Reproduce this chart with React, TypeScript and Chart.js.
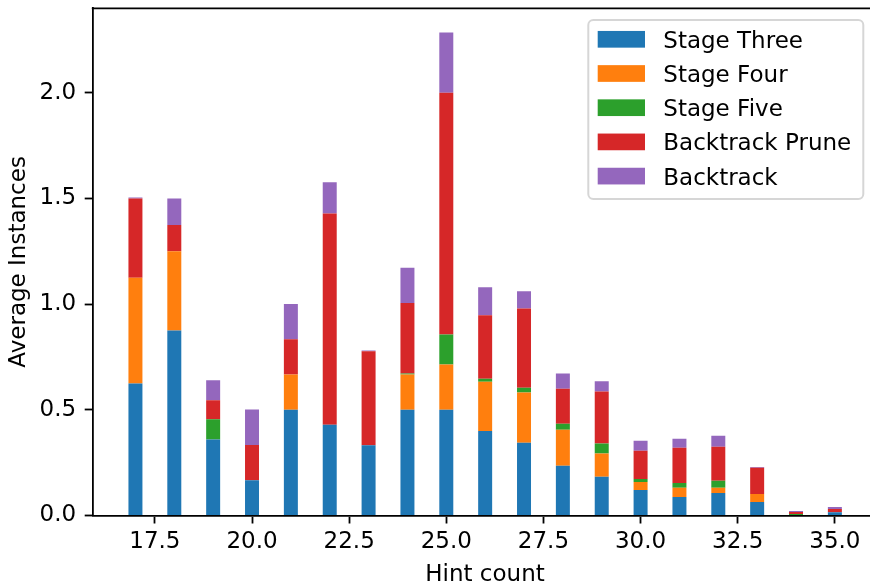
import React, { useEffect, useRef } from 'react';
import { Chart, registerables } from 'chart.js';

Chart.register(...registerables);

const hintCounts = [17, 18, 19, 20, 21, 22, 23, 24, 25, 26, 27, 28, 29, 30, 31, 32, 33, 34, 35];
const stageThree = [0.625, 0.875, 0.36, 0.167, 0.5, 0.429, 0.333, 0.5, 0.5, 0.4, 0.344, 0.235, 0.183, 0.121, 0.088, 0.107, 0.064, 0, 0.015];
const stageFour = [0.5, 0.375, 0, 0, 0.167, 0, 0, 0.167, 0.214, 0.233, 0.238, 0.171, 0.11, 0.038, 0.043, 0.024, 0.038, 0, 0];
const stageFive = [0, 0, 0.095, 0, 0, 0, 0, 0.005, 0.143, 0.014, 0.023, 0.028, 0.048, 0.014, 0.023, 0.033, 0, 0.007, 0];
const backtrackPrune = [0.375, 0.125, 0.09, 0.167, 0.167, 1.0, 0.444, 0.333, 1.143, 0.3, 0.375, 0.166, 0.246, 0.133, 0.166, 0.161, 0.124, 0.01, 0.016];
const backtrack = [0.005, 0.125, 0.095, 0.167, 0.167, 0.148, 0.004, 0.167, 0.286, 0.133, 0.081, 0.072, 0.048, 0.048, 0.043, 0.052, 0.004, 0.004, 0.009];

const seriesLabels = ['Stage Three', 'Stage Four', 'Stage Five', 'Backtrack Prune', 'Backtrack'];
const seriesColors = ['#1f77b4', '#ff7f0e', '#2ca02c', '#d62728', '#9467bd'];
const seriesValues = [stageThree, stageFour, stageFive, backtrackPrune, backtrack];

const xTickValues = [17.5, 20, 22.5, 25, 27.5, 30, 32.5, 35];
const yTickValues = [0, 0.5, 1.0, 1.5, 2.0];
const xAxisTitle = 'Hint count';
const yAxisTitle = 'Average Instances';

const FONT = '"DejaVu Sans", "Liberation Sans", sans-serif';
const FONT_SIZE = 23;

const decorPlugin = {
  id: 'decor',
  afterDraw(chart: any) {
    const { ctx, chartArea } = chart;
    ctx.save();
    // top spine
    ctx.strokeStyle = '#000';
    ctx.lineWidth = 1.8;
    ctx.beginPath();
    ctx.moveTo(chartArea.left - 0.9, chartArea.top);
    ctx.lineTo(chart.width, chartArea.top);
    ctx.stroke();

    // axis titles
    ctx.fillStyle = '#000';
    ctx.font = `${FONT_SIZE}px ${FONT}`;
    ctx.textAlign = 'center';
    ctx.textBaseline = 'alphabetic';
    ctx.fillText(xAxisTitle, 485, 581);
    ctx.save();
    ctx.translate(25, (chartArea.top + chartArea.bottom) / 2);
    ctx.rotate(-Math.PI / 2);
    ctx.fillText(yAxisTitle, 0, 0);
    ctx.restore();

    // legend
    const bx = 588.3, by = 20, bw = 275, bh = 179;
    ctx.beginPath();
    if (ctx.roundRect) ctx.roundRect(bx, by, bw, bh, 5);
    else ctx.rect(bx, by, bw, bh);
    ctx.fillStyle = 'rgba(255,255,255,0.8)';
    ctx.fill();
    ctx.strokeStyle = 'rgba(204,204,204,0.8)';
    ctx.lineWidth = 2;
    ctx.stroke();

    ctx.textAlign = 'left';
    chart.data.datasets.forEach((ds: any, i: number) => {
      const cy = 39.3 + i * 34.2;
      ctx.fillStyle = ds.backgroundColor;
      ctx.fillRect(597.7, cy - 8.35, 47.3, 16.7);
      ctx.fillStyle = '#000';
      ctx.fillText(ds.label, 663.3, cy + 8.4);
    });
    ctx.restore();
  },
};

export default function App() {
  const canvasRef = useRef<HTMLCanvasElement | null>(null);

  useEffect(() => {
    if (!canvasRef.current) return;
    const datasets = seriesLabels.map((label, si) => ({
      label,
      data: hintCounts.map((x, i) => ({ x, y: seriesValues[si][i] })),
      backgroundColor: seriesColors[si],
      borderWidth: 0,
      categoryPercentage: 1.0,
      barPercentage: 0.36,
    }));

    const tickFont = { family: FONT, size: FONT_SIZE };

    const chart = new Chart(canvasRef.current, {
      type: 'bar',
      data: { datasets },
      options: {
        responsive: false,
        animation: false,
        devicePixelRatio: 1,
        layout: { padding: { top: 8.3, left: 0, right: 0, bottom: 0 } },
        plugins: {
          legend: { display: false },
          tooltip: { enabled: false },
        },
        scales: {
          x: {
            type: 'linear',
            stacked: true,
            min: 15.9,
            max: 35.904,
            offset: false,
            afterBuildTicks: (s: any) => {
              s.ticks = xTickValues.map((v) => ({ value: v }));
            },
            afterFit: (s: any) => {
              s.height = 70.5;
              s.paddingLeft = 0;
              s.paddingRight = 0;
            },
            grid: {
              display: true,
              drawOnChartArea: false,
              drawTicks: true,
              tickLength: 8,
              tickWidth: 1.8,
              tickColor: '#000',
              offset: false,
            },
            border: { display: true, color: '#000', width: 1.8 },
            ticks: {
              font: tickFont,
              color: '#000',
              padding: 4.7,
              maxRotation: 0,
              autoSkip: false,
              callback: (v: any) => Number(v).toFixed(1),
            },
          },
          y: {
            type: 'linear',
            stacked: true,
            min: 0,
            max: 2.4,
            afterBuildTicks: (s: any) => {
              s.ticks = yTickValues.map((v) => ({ value: v }));
            },
            afterFit: (s: any) => {
              s.width = 92.7;
              s.paddingTop = 0;
              s.paddingBottom = 0;
            },
            grid: {
              display: true,
              drawOnChartArea: false,
              drawTicks: true,
              tickLength: 8,
              tickWidth: 1.8,
              tickColor: '#000',
            },
            border: { display: true, color: '#000', width: 1.8 },
            ticks: {
              font: tickFont,
              color: '#000',
              padding: 8.5,
              autoSkip: false,
              callback: (v: any) => Number(v).toFixed(1),
            },
          },
        },
      },
      plugins: [decorPlugin],
    } as any);

    return () => chart.destroy();
  }, []);

  return (
    <div style={{ position: 'absolute', left: 0, top: 0, width: 870, height: 586, background: '#fff' }}>
      <canvas ref={canvasRef} width={870} height={586} style={{ display: 'block', width: 870, height: 586 }} />
    </div>
  );
}
